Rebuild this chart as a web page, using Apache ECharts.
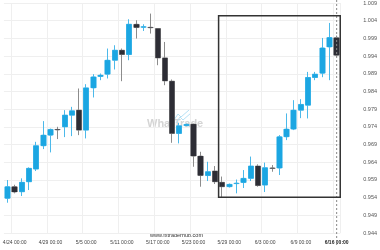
<!DOCTYPE html>
<html><head><meta charset="utf-8">
<script src="https://cdn.jsdelivr.net/npm/echarts@6/dist/echarts.min.js"></script>
<style>html,body{margin:0;padding:0;background:#fff}#c{width:380px;height:250px}</style>
</head><body><div id="c"></div>
<script>
const categories = ["4/23 00:00","4/24 00:00","4/25 00:00","4/26 00:00","4/27 00:00","4/28 00:00","4/29 00:00","4/30 00:00","5/1 00:00","5/2 00:00","5/3 00:00","5/5 00:00","5/6 00:00","5/7 00:00","5/8 00:00","5/9 00:00","5/11 00:00","5/12 00:00","5/13 00:00","5/14 00:00","5/15 00:00","5/17 00:00","5/18 00:00","5/19 00:00","5/20 00:00","5/21 00:00","5/23 00:00","5/24 00:00","5/25 00:00","5/26 00:00","5/27 00:00","5/29 00:00","5/30 00:00","5/31 00:00","6/1 00:00","6/2 00:00","6/3 00:00","6/4 00:00","6/5 00:00","6/6 00:00","6/7 00:00","6/9 00:00","6/10 00:00","6/11 00:00","6/12 00:00","6/13 00:00","6/16 00:00"];
const opens  = [0.95380,0.95708,0.95566,0.95849,0.96207,0.96865,0.97166,0.97327,0.97401,0.97731,0.97872,0.97308,0.98501,0.98823,0.98888,0.99283,0.99565,0.99444,1.00299,1.00212,1.00215,1.00178,0.99348,0.98690,0.97214,0.97435,0.97477,0.96574,0.96024,0.96151,0.95832,0.95708,0.95795,0.95826,0.95945,0.96292,0.95755,0.96240,0.96235,0.97119,0.97336,0.97872,0.98013,0.98795,0.98916,0.99658,0.99918];
const closes = [0.95708,0.95558,0.95832,0.96227,0.96865,0.97166,0.97327,0.97312,0.97731,0.97852,0.97308,0.98501,0.98812,0.98860,0.99283,0.99565,0.99444,1.00299,1.00206,1.00232,1.00200,0.99348,0.98699,0.97214,0.97429,0.97470,0.96574,0.96024,0.96131,0.95849,0.95708,0.95775,0.95810,0.95945,0.96292,0.95741,0.96244,0.96225,0.97119,0.97336,0.97872,0.98033,0.98795,0.98888,0.99630,0.99924,0.99424];
const lows   = [0.95256,0.95521,0.95445,0.95614,0.96151,0.96771,0.96678,0.97054,0.97110,0.97138,0.97166,0.97073,0.98230,0.98719,0.98767,0.99021,0.98690,0.99283,0.99895,1.00110,1.00036,0.99142,0.98577,0.96949,0.96932,0.97420,0.96272,0.95708,0.95868,0.95784,0.95417,0.95685,0.95521,0.95671,0.95868,0.95708,0.95558,0.96131,0.96038,0.97025,0.97308,0.97646,0.97638,0.98719,0.98803,0.98719,0.99380];
const highs  = [0.95897,0.95764,0.95945,0.96255,0.96977,0.97562,0.97350,0.97401,0.97872,0.97965,0.98484,0.98606,0.98888,0.98908,0.99613,0.99706,0.99613,1.00440,1.00412,1.00299,1.00601,1.00178,0.99799,0.98738,0.97514,0.97490,0.97490,0.96695,0.96413,0.96292,0.95995,0.95798,0.95911,0.96179,0.96560,0.96340,0.96390,0.96320,0.97166,0.97779,0.98154,0.98182,0.98953,0.98953,0.99912,1.00336,0.99980];
const xTickLabels = ["4/24 00:00","4/29 00:00","5/5 00:00","5/11 00:00","5/17 00:00","5/23 00:00","5/29 00:00","6/3 00:00","6/9 00:00","6/16 00:00"];
const yTickLabels = ["0.944","0.949","0.954","0.959","0.964","0.969","0.974","0.979","0.984","0.989","0.994","0.999","1.004","1.009"];
const currentLabel = "6/16 00:00";
const boxStart = "5/27 00:00", boxEnd = "6/16 00:00";
const boxTop = 1.00541, boxBottom = 0.95409;

const fullData = opens.map((o,i)=>[o, closes[i], lows[i], highs[i]]);
const bodyData = opens.map((o,i)=>[o, closes[i], Math.min(o,closes[i]), Math.max(o,closes[i])]);
const yMin = parseFloat(yTickLabels[0]), yMax = parseFloat(yTickLabels[yTickLabels.length-1]);

const chart = echarts.init(document.getElementById('c'), null, {renderer:'canvas'});
chart.setOption({
  animation:false,
  grid:{left:-2, right:37.3, top:3, bottom:17},
  xAxis:{
    type:'category', data:categories, boundaryGap:true,
    axisLine:{show:false}, axisTick:{show:false},
    axisLabel:{
      interval:(i,v)=>xTickLabels.indexOf(v)>=0,
      fontSize:5, color:'#444', margin:7, fontFamily:'Liberation Sans, Arial, sans-serif',
      formatter:v=> v===currentLabel ? '{b|'+v+'}' : v,
      rich:{b:{fontWeight:'bold', fontSize:5, color:'#222', fontFamily:'Liberation Sans, Arial, sans-serif'}}
    },
    splitLine:{show:true, interval:(i,v)=>xTickLabels.indexOf(v)>=0, lineStyle:{color:'#efefef', width:1}}
  },
  yAxis:{
    type:'value', position:'right', scale:true, min:yMin, max:yMax, interval:0.005,
    axisLine:{show:false}, axisTick:{show:false},
    axisLabel:{fontSize:5.5, color:'#555', margin:23, fontFamily:'Liberation Sans, Arial, sans-serif',
      formatter:v=>{const s=v.toFixed(3); return yTickLabels.indexOf(s)>=0?s:'';}},
    splitLine:{lineStyle:{color:'#efefef', width:1}}
  },
  graphic:[
    {type:'text', left:147, top:118, z:0, style:{text:'WhatTrade', fontSize:11, fontWeight:'bold', fill:'#d4d4d4', fontFamily:'Liberation Sans, Arial, sans-serif'}},
    {type:'polyline', z:0, shape:{points:[[174,120],[178,114],[181,117],[189,110]]}, style:{stroke:'#b5e0f5', lineWidth:1, fill:null}},
    {type:'polyline', z:0, shape:{points:[[176,123],[180,117],[183,120],[191,113]]}, style:{stroke:'#b5e0f5', lineWidth:1, fill:null}},
    {type:'text', right:177, top:232, z:0, style:{text:'www.fxtraderhub.com', fontSize:5.5, fill:'#333', fontFamily:'Liberation Sans, Arial, sans-serif'}}
  ],
  series:[
    {type:'candlestick', data:fullData, barWidth:5, z:2,
     itemStyle:{color:'#1ba6e2', color0:'#2d2d35', borderColor:'#4cb9ea', borderColor0:'#8c8c8c', borderWidth:1}},
    {type:'candlestick', data:bodyData, barWidth:6, z:3,
     itemStyle:{color:'#1ba6e2', color0:'#2d2d35', borderWidth:0, borderColor:'#1ba6e2', borderColor0:'#2d2d35'}},
    {type:'custom', z:10, silent:true, clip:false, data:[[0]],
     renderItem:(params, api)=>{
       const cs = params.coordSys;
       const band = api.size([1,0])[0];
       const s = categories.indexOf(boxStart), e = categories.indexOf(boxEnd), cur = categories.indexOf(currentLabel);
       const p1 = api.coord([s, boxTop]), p2 = api.coord([e, boxBottom]);
       const x1 = p1[0]-band/2, x2 = p2[0]+band/2;
       const xc = api.coord([cur, boxTop])[0];
       return {type:'group', children:[
         {type:'line', shape:{x1:xc, y1:cs.y-3, x2:xc, y2:cs.y+cs.height+12}, style:{stroke:'#888', lineWidth:1, lineDash:[2,2]}},
         {type:'rect', shape:{x:x1, y:p1[1], width:x2-x1, height:p2[1]-p1[1]}, style:{fill:null, stroke:'#333', lineWidth:1.5}}
       ]};
     }}
  ]
});
</script></body></html>
